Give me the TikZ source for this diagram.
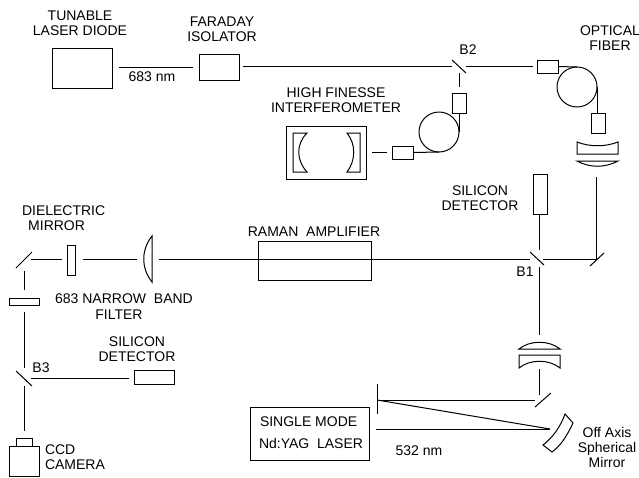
\documentclass[tikz,border=0pt]{standalone}
\usepackage{fontspec}
\setmainfont{Liberation Sans}
\tikzset{
  line/.style={line width=1pt,line cap=butt,black},
  optbox/.style={draw=black,line width=1pt,inner sep=0pt,outer sep=0pt,fill=none},
  coil/.style={draw=black,line width=1pt,circle,inner sep=0pt,outer sep=0pt,minimum size=40pt},
  lab/.style={font=\fontsize{14}{15.2}\selectfont,inner sep=0pt,outer sep=0pt,align=center,text=black},
}
\begin{document}
\begin{tikzpicture}[x=1pt,y=-1pt]
\useasboundingbox (0,0) rectangle (639,477);
% --- boxes
\node[optbox,minimum width=60pt,minimum height=40pt] (diode) at (82,68) {};
\node[optbox,minimum width=40pt,minimum height=26pt] (faraday) at (219,67) {};
\node[optbox,minimum width=21pt,minimum height=13pt] (fcA) at (547.5,66.5) {};
\node[coil] (coilA) at (577,87) {};
\node[optbox,minimum width=14pt,minimum height=20pt] (fcB) at (598,123) {};
\node[optbox,minimum width=14pt,minimum height=20pt] (fcC) at (459,103) {};
\node[coil] (coilB) at (439,132) {};
\node[optbox,minimum width=21pt,minimum height=13pt] (fcD) at (402.5,152.5) {};
\node[optbox,minimum width=80pt,minimum height=53pt] (etalon) at (326,152.5) {};
\node[optbox,minimum width=14pt,minimum height=40pt] (siA) at (540,194) {};
\node[optbox,minimum width=113pt,minimum height=39pt] (raman) at (314.5,260.5) {};
\node[optbox,minimum width=8pt,minimum height=30pt] (filter) at (71,260) {};
\node[optbox,minimum width=30pt,minimum height=7pt] (slab) at (24,301.5) {};
\node[optbox,minimum width=40pt,minimum height=14pt] (siB) at (154,377) {};
\node[optbox,minimum width=16pt,minimum height=8pt] (camtop) at (24,442) {};
\node[optbox,minimum width=30pt,minimum height=30pt] (cam) at (24,461) {};
\node[optbox,minimum width=119pt,minimum height=53pt] (yag) at (309.5,433.5) {};
% --- free ends of the beam segments
\coordinate (dOut) at (119,67);
\coordinate (fIn) at (193,67);
\coordinate (fOut) at (243,66);
\coordinate (bTwoIn) at (452,66);
\coordinate (bTwoOut) at (466,66);
\coordinate (fcAIn) at (533,66);
\coordinate (bTwoDown) at (459,73);
\coordinate (bTwoDownEnd) at (459,87);
\coordinate (etOut) at (372,152);
\coordinate (fcDIn) at (387,152);
\coordinate (lensOut) at (596,177);
\coordinate (foldIn) at (596,259);
\coordinate (foldEnd) at (543,259);
\coordinate (bOneUp) at (539,250);
\coordinate (bOneDown) at (539,267);
\coordinate (lensIn) at (539,335);
\coordinate (lensB) at (539,369);
\coordinate (mirB) at (539,395);
\coordinate (plate) at (377,400);
\coordinate (mirBL) at (535,400);
\coordinate (offA) at (550,429);
\coordinate (yagOut) at (376,429);
\coordinate (ramanIn) at (159,259);
\coordinate (bOneIn) at (530,259);
\coordinate (lensLIn) at (137,259);
\coordinate (filtOut) at (83,259);
\coordinate (filtIn) at (62,259);
\coordinate (mirL) at (31,259);
\coordinate (mirLDown) at (24,271);
\coordinate (slabIn) at (24,290);
\coordinate (slabOut) at (24,312);
\coordinate (bThreeIn) at (24,368);
\coordinate (bThreeOut) at (24,386);
\coordinate (camIn) at (24,431);
\coordinate (bThreeR) at (31,378);
\coordinate (siBIn) at (129,378);
% --- beams
\draw[line] (dOut) -- (fIn);
\draw[line] (fOut) -- (bTwoIn);
\draw[line] (bTwoOut) -- (fcAIn);
\draw[line] (bTwoDown) -- (bTwoDownEnd);
\draw[line] (etOut) -- (fcDIn);
\draw[line] (lensOut) -- (foldIn) -- (foldEnd);
\draw[line] (siA.south -| bOneUp) -- (bOneUp);
\draw[line] (bOneDown) -- (lensIn);
\draw[line] (lensB) -- (mirB);
\draw[line] (plate) -- (mirBL);
\draw[line] (plate) -- (offA);
\draw[line] (yagOut) -- (offA);
\draw[line] (ramanIn) -- (bOneIn);
\draw[line] (filtOut) -- (lensLIn);
\draw[line] (mirL) -- (filtIn);
\draw[line] (mirLDown) -- (slabIn);
\draw[line] (slabOut) -- (bThreeIn);
\draw[line] (bThreeOut) -- (camIn);
\draw[line] (bThreeR) -- (siBIn);
% --- fibres
\draw[line] (fcA.east) -- (coilA.north);
\draw[line] (coilA.east) -- (coilA.east |- fcB.north);
\draw[line] (fcD.east) -- (coilB.south);
\draw[line] (coilB.east) -- (fcC.south);
% --- mirrors and beam splitters
\draw[line] (452,60) -- (466,73);
\draw[line] (530,252) -- (544,265);
\draw[line] (590,266) -- (604,253);
\draw[line] (535,407) -- (551,393);
\draw[line] (377,384) -- (377,414);
\draw[line] (16,268) -- (32,252);
\draw[line] (16,371) -- (32,386);
% --- off-axis mirror
\draw[line,line join=miter] (565,414) -- (573,423) .. controls (566,438) and (560,446) .. (552,452) -- (543,445) .. controls (552,438) and (560,428) .. (565,414) -- cycle;
% --- interferometer mirrors
\draw[line] (293,133) -- (307,133) .. controls (296,144) and (296,160) .. (307,172) -- (293,172) -- cycle;
\draw[line] (360,133) -- (347,133) .. controls (356,144) and (356,160) .. (347,172) -- (360,172) -- cycle;
% --- upper right lenses
\draw[line] (577,142) .. controls (590,147) and (605,147) .. (618,142) -- (618,154) -- (577,154) -- cycle;
\draw[line] (577,161) -- (618,161) .. controls (605,168) and (590,168) .. (577,161) -- cycle;
% --- lower right lenses
\draw[line] (519,349) .. controls (530,340) and (549,340) .. (560,349) -- cycle;
\draw[line] (519,355) -- (560,355) -- (560,368) .. controls (549,359) and (530,359) .. (519,368) -- cycle;
% --- left lens
\draw[line] (152,236) .. controls (141,250) and (141,268) .. (152,282) -- cycle;
% --- labels
\node[lab] (tTun) at (80,23) {TUNABLE\\LASER DIODE};
\node[lab] (tNm) at (152,77) {683 nm};
\node[lab] (tFar) at (222,29) {FARADAY\\ISOLATOR};
\node[lab] (tB2) at (468,50) {B2};
\node[lab] (tOpt) at (610,38) {OPTICAL\\FIBER};
\node[lab] (tHigh) at (336,100) {HIGH FINESSE\\INTERFEROMETER};
\node[lab] (tSiA) at (480,198) {SILICON\\DETECTOR};
\node[lab] (tB1) at (525,272) {B1};
\node[lab] (tRam) at (314,232) {RAMAN\ \ AMPLIFIER};
\node[lab,align=left,anchor=west] (tDie) at (22,218.5) {DIELECTRIC\\[-.5pt]\ \,MIRROR};
\node[lab] (tNar) at (124,299) {683 NARROW\ \ BAND};
\node[lab] (tFil) at (119,314.5) {FILTER};
\node[lab] (tSiB) at (137,349.5) {SILICON\\DETECTOR};
\node[lab] (tB3) at (41,368) {B3};
\node[lab,align=left,anchor=west] (tCcd) at (45,457.5) {CCD\\CAMERA};
\node[lab,anchor=west] (tSin) at (260,422) {SINGLE MODE};
\node[lab,anchor=west] (tYag) at (259,443) {Nd:YAG\ \ LASER};
\node[lab] (t532) at (419,451) {532 nm};
\node[lab] (tOff) at (607,447.5) {Off Axis\\Spherical\\Mirror};
\end{tikzpicture}
\end{document}
